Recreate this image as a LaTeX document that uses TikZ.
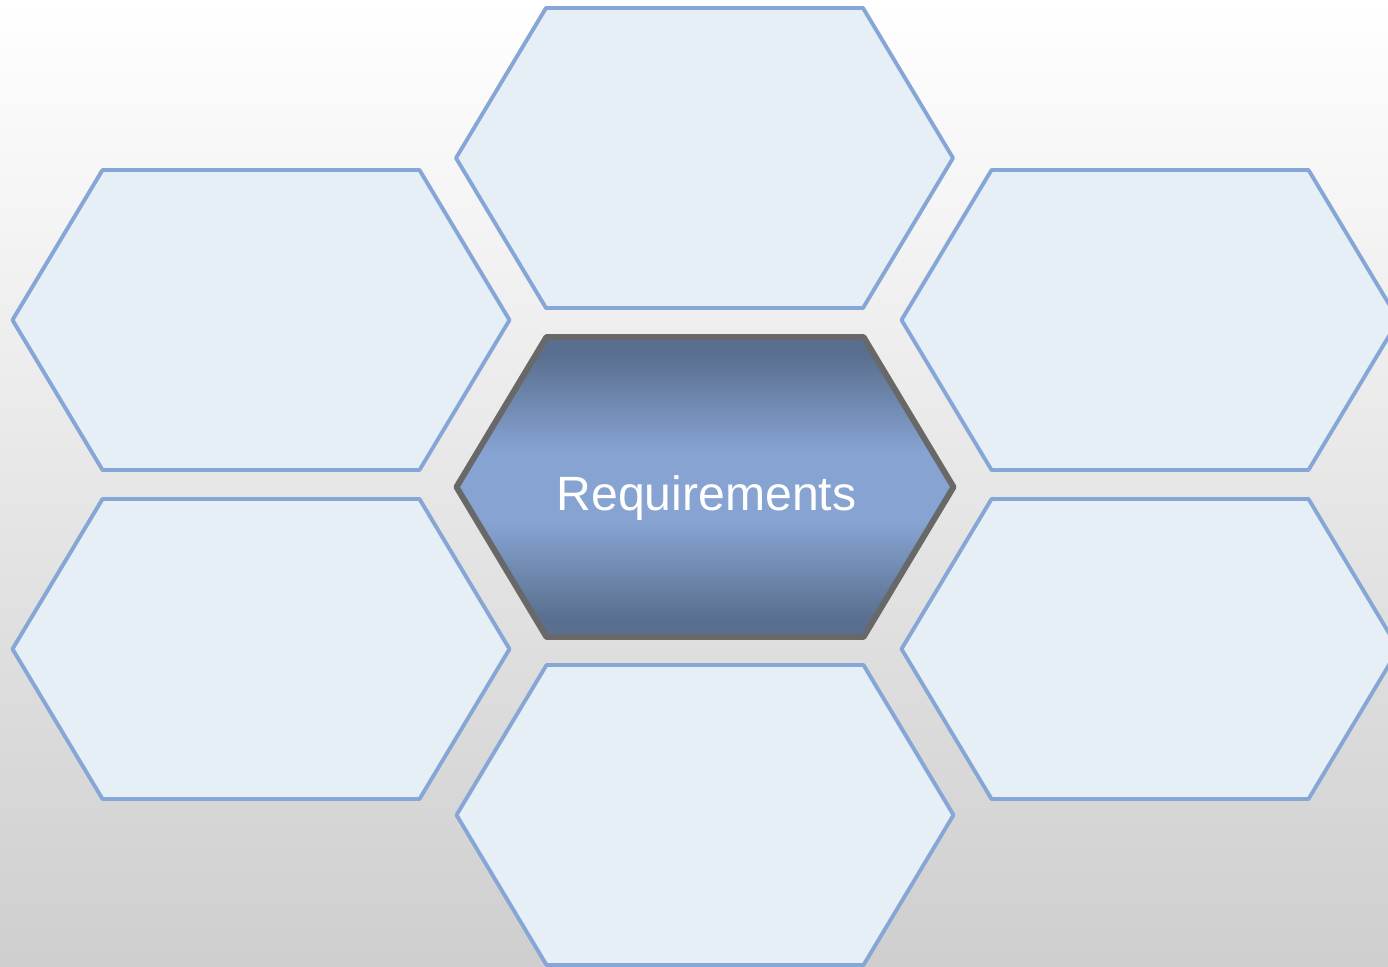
\documentclass[tikz,border=0pt]{standalone}
\usepackage{fontspec}
\setmainfont{Liberation Sans}
\usepackage{tikz}

\definecolor{cellfill}{HTML}{E6EEF6}
\definecolor{celledge}{HTML}{86A6D6}
\definecolor{coredark}{HTML}{5A6F8F}
\definecolor{corelight}{HTML}{86A3D1}
\definecolor{coreedge}{HTML}{686868}

\pgfdeclareverticalshading{coreshade}{100bp}{color(0bp)=(coredark); color(28bp)=(coredark); color(44bp)=(corelight); color(56bp)=(corelight); color(72bp)=(coredark); color(100bp)=(coredark)}

% hexagon round a centre coordinate
\newcommand{\hexcell}[1]{(#1) ++(-1.585,1.5) -- ++(3.17,0) -- ++(0.9,-1.5) -- ++(-0.9,-1.5) -- ++(-3.17,0) -- ++(-0.9,1.5) -- cycle}

\begin{document}
\begin{tikzpicture}[line join=round]
			\tikzstyle{cell}=[draw=celledge, fill=cellfill, line width=1.1pt]
			\tikzstyle{core}=[draw=coreedge, line width=1.7pt, shading=coreshade]
			\useasboundingbox (0,0) rectangle (13.88,9.66);
			\shade [top color=white, bottom color=black!19] (0,0) rectangle (13.88,9.66);
			\coordinate (top) at (7.045,8.08);
			\coordinate (upleft) at (2.61,6.46);
			\coordinate (lowleft) at (2.61,3.17);
			\coordinate (upright) at (11.50,6.46);
			\coordinate (lowright) at (11.50,3.17);
			\coordinate (bottom) at (7.05,1.51);
			\coordinate (core) at (7.05,4.79);
			\draw [cell] \hexcell{top};
			\draw [cell] \hexcell{upleft};
			\draw [cell] \hexcell{lowleft};
			\draw [cell] \hexcell{upright};
			\draw [cell] \hexcell{lowright};
			\draw [cell] \hexcell{bottom};
			\path [core] \hexcell{core};
			\node [text=white, anchor=base, inner sep=0pt, font=\fontsize{13.7}{16}\selectfont] (req) at (7.065,4.56) {Requirements};
\end{tikzpicture}
\end{document}
